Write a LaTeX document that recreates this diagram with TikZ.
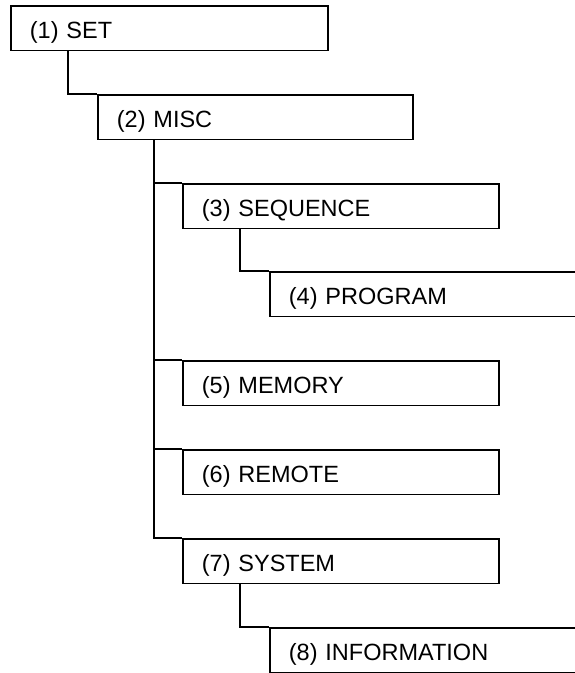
\documentclass[tikz,border=0pt]{standalone}
\usepackage{fontspec}
\setmainfont{Liberation Sans}
\begin{document}
\begin{tikzpicture}[x=1pt,y=-1pt,
  menubox/.style={draw=black, line width=1.8pt, anchor=north west,
    inner xsep=19pt, inner ysep=0pt, text width=#1, align=left,
    text height=33pt, text depth=11.5pt,
    font=\fontsize{23.5}{28}\selectfont},
  link/.style={draw=black, line width=1.8pt}]
\useasboundingbox (0,0) rectangle (575,673);
\clip (0,0) rectangle (575,673);
\node[menubox=279pt] (s1) at (10,5) {(1) SET};
\node[menubox=277pt] (s2) at (97,94) {(2) MISC};
\node[menubox=278pt] (s3) at (182,183) {(3) SEQUENCE};
\node[menubox=293pt] (s4) at (269,271) {(4) PROGRAM};
\node[menubox=278pt] (s5) at (182,360) {(5) MEMORY};
\node[menubox=278pt] (s6) at (182,449) {(6) REMOTE};
\node[menubox=278pt] (s7) at (182,538) {(7) SYSTEM};
\node[menubox=293pt] (s8) at (269,627) {(8) INFORMATION};
\draw[link] ([xshift=58pt]s1.south west) |- (s2.north west);
\draw[link] ([xshift=57pt]s2.south west) |- (s3.north west);
\draw[link] ([xshift=57pt]s2.south west) |- (s5.north west);
\draw[link] ([xshift=57pt]s2.south west) |- (s6.north west);
\draw[link] ([xshift=57pt]s2.south west) |- (s7.north west);
\draw[link] ([xshift=58pt]s3.south west) |- (s4.north west);
\draw[link] ([xshift=58pt]s7.south west) |- (s8.north west);
\end{tikzpicture}
\end{document}
